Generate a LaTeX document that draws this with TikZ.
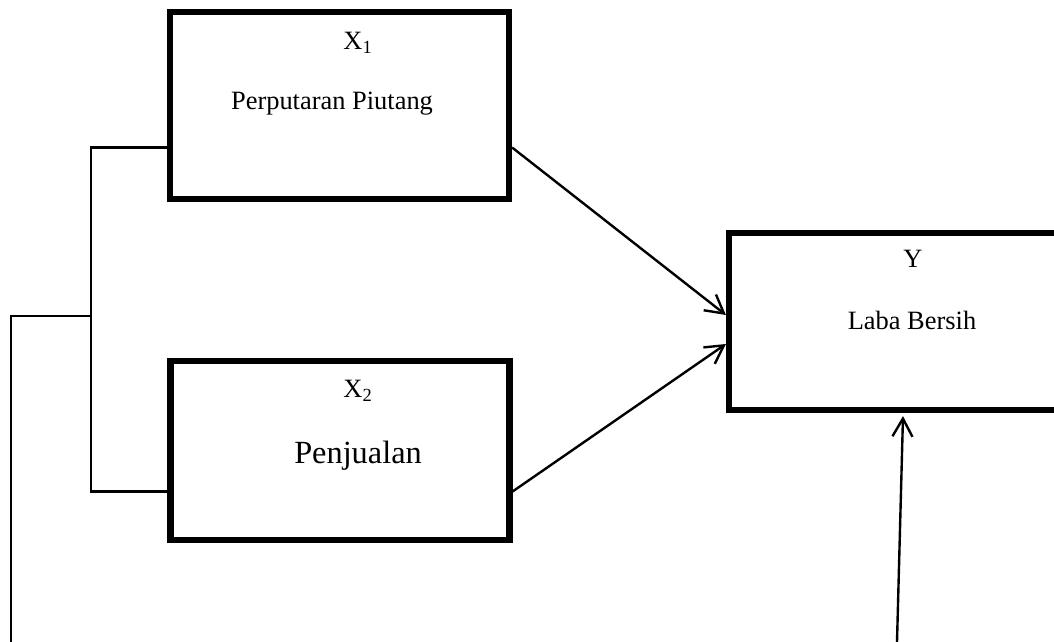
\documentclass[tikz,border=0pt]{standalone}
\usepackage{fontspec}
\setmainfont{Liberation Serif}
\usetikzlibrary{arrows.meta}

\begin{document}
\begin{tikzpicture}[
  kotak/.style={draw, line width=4.4pt, inner sep=0pt},
  garis/.style={line width=1.7pt},
  panah/.style={garis, -{Straight Barb[length=4.5mm,width=5mm]}},
  teks/.style={anchor=base, inner sep=0pt, font=\fontsize{18.8}{22}\selectfont}]
  \path[use as bounding box, clip] (0,0) rectangle (26.35,16.05);

  \node[kotak, minimum width=8.475cm, minimum height=4.675cm] (x1) at (8.4875,13.4125) {};
  \node[kotak, minimum width=8.475cm, minimum height=4.475cm] (x2) at (8.5,4.7875) {};
  \node[kotak, minimum width=9.15cm, minimum height=4.425cm] (y) at (22.8,8.0125) {};

  \node[teks] (x1kode) at (8.95,14.8) {X\textsubscript{1}};
  \node[teks] (x1nama) at (8.3,13.3) {Perputaran Piutang};
  \node[teks] (x2kode) at (8.95,6.1) {X\textsubscript{2}};
  \node[teks, font=\fontsize{23}{27}\selectfont] (x2nama) at (8.95,4.45) {Penjualan};
  \node[teks] (ykode) at (22.825,9.35) {Y};
  \node[teks] (ynama) at (22.8,7.8) {Laba Bersih};

  % kurung kiri
  \coordinate (cabang) at (2.275,8.15);
  \coordinate (dasar) at (0.275,0);
  \draw[garis] ([yshift=-1.05cm]x1.west) -| (cabang) |- ([yshift=-1.025cm]x2.west);
  \draw[garis] (cabang) -| (dasar);

  \draw[panah] ([yshift=-1.05cm]x1.east) -- ([yshift=0.1625cm]y.west);
  \draw[panah] ([yshift=-1.025cm]x2.east) -- ([yshift=-0.5625cm]y.west);
  \coordinate (sumber) at (22.425,0);
  \draw[panah] (sumber) -- ([xshift=-0.225cm,yshift=-0.075cm]y.south);
\end{tikzpicture}
\end{document}
